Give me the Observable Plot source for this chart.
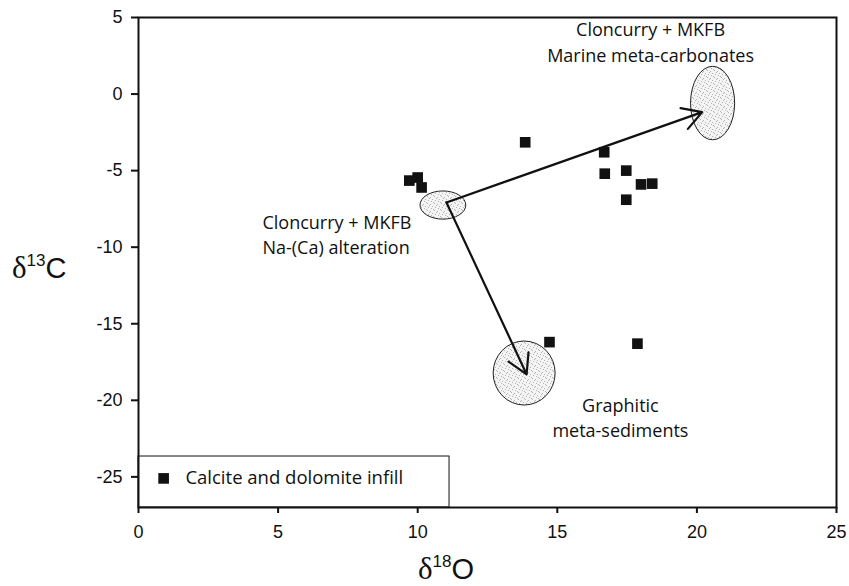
<!DOCTYPE html>
<html>
<head>
<meta charset="utf-8">
<script src="https://cdn.jsdelivr.net/npm/d3@7"></script>
<script src="https://cdn.jsdelivr.net/npm/@observablehq/plot@0.6"></script>
<style>
  html, body { margin: 0; padding: 0; background: #fff; }
  #wrap { position: relative; width: 849px; height: 586px; }
  .axt { position: absolute; font-family: "Liberation Sans", Arial, sans-serif; font-size: 29px; color: #111; white-space: nowrap; line-height: 1; }
  .axt .d { font-family: "Liberation Serif", "DejaVu Serif", serif; font-size: 31px; }
  .axt sup { font-size: 17px; vertical-align: 12px; }
</style>
</head>
<body>
<div id="wrap"></div>
<script>
// --- data ---
const d18O = [13.85, 16.68, 16.70, 17.47, 18.00, 18.40, 17.47, 9.70, 10.00, 10.14, 14.72, 17.87];
const d13C = [-3.15, -3.80, -5.20, -5.00, -5.90, -5.85, -6.90, -5.65, -5.45, -6.10, -16.20, -16.30];

// fields (ellipses): centre and half-axes in data units
const fieldName = ["Na-(Ca) alteration", "Marine meta-carbonates", "Graphitic meta-sediments"];
const fieldX  = [10.92, 20.58, 13.83];
const fieldY  = [-7.28, -0.62, -18.25];
const fieldRx = [0.82, 0.79, 1.11];
const fieldRy = [0.92, 2.40, 2.09];

// arrows
const arrowX1 = [11.03, 11.03];
const arrowY1 = [-7.08, -7.08];
const arrowX2 = [20.19, 13.90];
const arrowY2 = [-1.18, -18.30];

// annotation labels (centred)
const centredText = ["Cloncurry + MKFB", "Marine meta-carbonates", "Graphitic", "meta-sediments"];
const centredX = [18.34, 18.34, 17.26, 17.26];
const centredY = [4.20, 2.48, -20.38, -22.0];
// annotation labels (left-aligned)
const leftText = ["Cloncurry + MKFB", "Na-(Ca) alteration"];
const leftX = [4.44, 4.44];
const leftY = [-8.42, -10.04];

// legend
const legendBoxX = [0, 11.14];
const legendBoxY = [-23.67, -27];
const legendText = ["Calcite and dolomite infill"];

const xTicks = [0, 5, 10, 15, 20, 25];
const yTicks = [5, 0, -5, -10, -15, -20, -25];

// --- build tables ---
const points = d18O.map((x, i) => ({x, y: d13C[i]}));
const fields = fieldName.map((n, i) => ({name: n, x: fieldX[i], y: fieldY[i], rx: fieldRx[i], ry: fieldRy[i]}));
const arrows = arrowX1.map((x1, i) => ({x1, y1: arrowY1[i], x2: arrowX2[i], y2: arrowY2[i]}));
const centred = centredText.map((t, i) => ({t, x: centredX[i], y: centredY[i]}));
const lefts = leftText.map((t, i) => ({t, x: leftX[i], y: leftY[i]}));

const annFont = "'Open Sans', Lato, sans-serif";
const annSize = 18;

const ellipseMark = Plot.dot(fields, {
  x: "x", y: "y",
  render(index, scales, values, dims, context) {
    const g = d3.create("svg:g");
    for (const i of index) {
      const f = fields[i];
      const cx = scales.x(f.x), cy = scales.y(f.y);
      const rx = Math.abs(scales.x(f.x + f.rx) - cx);
      const ry = Math.abs(scales.y(f.y + f.ry) - cy);
      g.append("ellipse").attr("cx", cx).attr("cy", cy).attr("rx", rx).attr("ry", ry)
        .attr("fill", "url(#stipple)").attr("stroke", "#222").attr("stroke-width", 1);
    }
    return g.node();
  }
});

const fmt = d => String(d);

const chart = Plot.plot({
  width: 849,
  height: 586,
  marginLeft: 138,
  marginRight: 13,
  marginTop: 17,
  marginBottom: 79,
  style: {fontFamily: "'Liberation Sans', Arial, sans-serif", fontSize: "18px", color: "#111", background: "#fff"},
  x: {domain: [0, 25]},
  y: {domain: [-27, 5]},
  marks: [
    ellipseMark,
    Plot.rect([0], {x1: () => legendBoxX[0], x2: () => legendBoxX[1], y1: () => legendBoxY[0], y2: () => legendBoxY[1], fill: "#fff", stroke: "#111", strokeWidth: 1}),
    Plot.dot([0], {x: () => 0.9, y: () => -25.1, symbol: "square", r: 6, fill: "#111", stroke: "none"}),
    Plot.text(legendText, {x: () => 1.68, y: () => -25.1, text: d => d, textAnchor: "start", fontFamily: annFont, fontSize: 18.5, fill: "#111"}),
    Plot.arrow(arrows, {x1: "x1", y1: "y1", x2: "x2", y2: "y2", stroke: "#111", strokeWidth: 2.2, headLength: 15, headAngle: 60}),
    Plot.dot(points, {x: "x", y: "y", symbol: "square", r: 6, fill: "#111", stroke: "none"}),
    Plot.text(centred, {x: "x", y: "y", text: "t", textAnchor: "middle", fontFamily: annFont, fontSize: annSize, fill: "#111"}),
    Plot.text(lefts, {x: "x", y: "y", text: "t", textAnchor: "start", fontFamily: annFont, fontSize: annSize, fill: "#111"}),
    Plot.axisX({ticks: xTicks, tickFormat: fmt, tickSize: 6, tickPadding: 12, strokeWidth: 2, fontSize: 18, label: null}),
    Plot.axisY({ticks: yTicks, tickFormat: fmt, tickSize: 7, tickPadding: 9, strokeWidth: 2, fontSize: 18, label: null}),
    Plot.frame({stroke: "#111", strokeWidth: 2})
  ]
});

// stipple pattern for the fields
const svg = d3.select(chart.tagName.toLowerCase() === "svg" ? chart : chart.querySelector("svg"));
const defs = svg.insert("defs", ":first-child");
const pat = defs.append("pattern").attr("id", "stipple").attr("patternUnits", "userSpaceOnUse").attr("width", 7).attr("height", 7);
pat.append("rect").attr("width", 7).attr("height", 7).attr("fill", "#f4f4f4");
const dots = [[0,0],[3,1],[5,3],[1,4],[4,5],[6,6],[2,2]];
for (const [a, b] of dots) pat.append("rect").attr("x", a).attr("y", b).attr("width", 1).attr("height", 1).attr("fill", "#b4b4b4");

const wrap = document.getElementById("wrap");
wrap.appendChild(chart);

const yt = document.createElement("div");
yt.className = "axt";
yt.innerHTML = '<span class="d">δ</span><sup>13</sup>C';
yt.style.left = "12px"; yt.style.top = "252px";
wrap.appendChild(yt);

const xt = document.createElement("div");
xt.className = "axt";
xt.innerHTML = '<span class="d">δ</span><sup>18</sup>O';
xt.style.left = "418px"; xt.style.top = "553px";
wrap.appendChild(xt);
</script>
</body>
</html>
